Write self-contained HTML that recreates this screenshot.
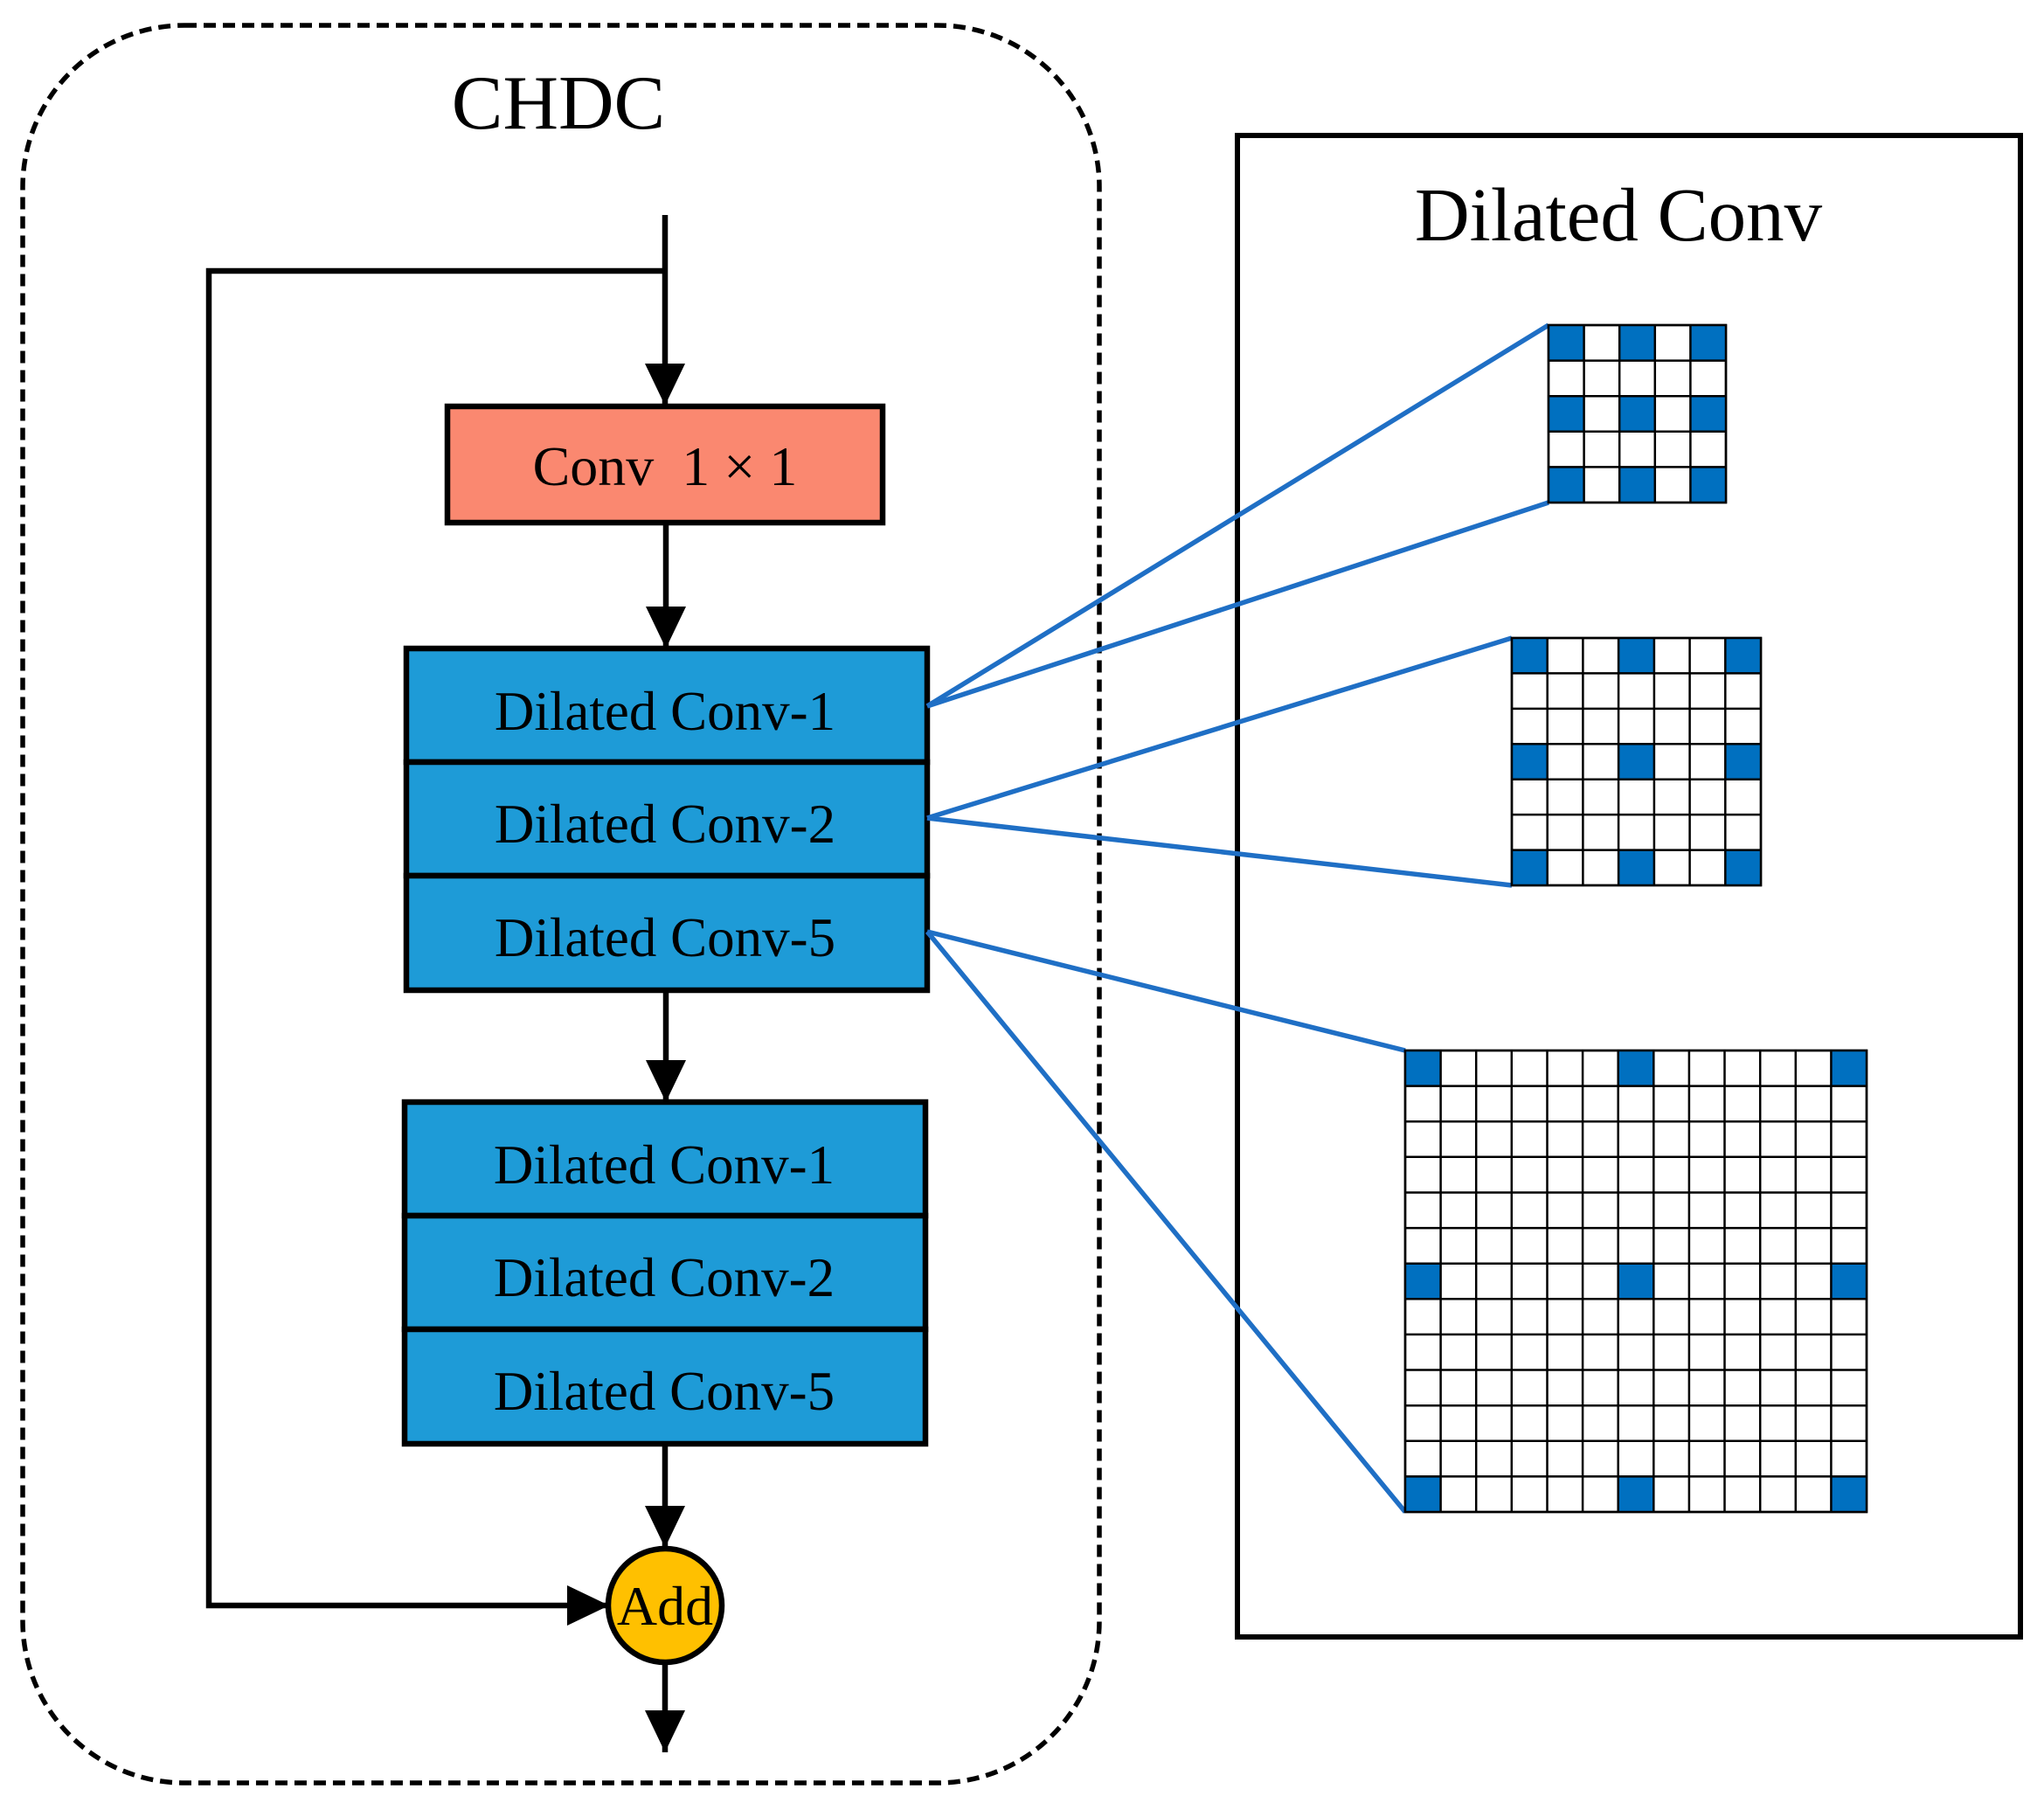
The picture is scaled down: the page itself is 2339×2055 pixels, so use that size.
<!DOCTYPE html>
<html><head><meta charset="utf-8"><style>html,body{margin:0;padding:0;background:#fff}svg{display:block}</style></head><body>
<svg width="2339" height="2055" viewBox="0 0 2339 2055" xmlns="http://www.w3.org/2000/svg" font-family="Liberation Serif, serif">
<defs>
<marker id="ah" markerWidth="48" markerHeight="46" refX="48" refY="23" orient="auto" markerUnits="userSpaceOnUse">
<path d="M0,0 L48,23 L0,46 Z" fill="#000"/></marker>
</defs>
<rect x="26" y="29" width="1232" height="2011" rx="185" ry="185" fill="none" stroke="#000" stroke-width="5.5" stroke-dasharray="14,8"/>
<text x="639" y="147" font-size="88" text-anchor="middle">CHDC</text>
<line x1="761" y1="246" x2="761" y2="464" stroke="#000" stroke-width="6.5" marker-end="url(#ah)"/>
<polyline points="761,310 239,310 239,1837 697,1837" fill="none" stroke="#000" stroke-width="6.5" marker-end="url(#ah)"/>
<rect x="512" y="465" width="498" height="133" fill="#FA8870" stroke="#000" stroke-width="6.5"/>
<text x="761" y="555" font-size="64" text-anchor="middle" xml:space="preserve">Conv  1 × 1</text>
<line x1="762" y1="598" x2="762" y2="742" stroke="#000" stroke-width="6.5" marker-end="url(#ah)"/>
<g stroke="#000" stroke-width="6.5" fill="#1E9BD7">
<rect x="465" y="742" width="596" height="130"/>
<rect x="465" y="872" width="596" height="130"/>
<rect x="465" y="1002" width="596" height="131"/>
</g>
<g font-size="63" text-anchor="middle">
<text x="761" y="835">Dilated Conv-1</text>
<text x="761" y="964">Dilated Conv-2</text>
<text x="761" y="1094">Dilated Conv-5</text>
</g>
<line x1="762" y1="1133" x2="762" y2="1261" stroke="#000" stroke-width="6.5" marker-end="url(#ah)"/>
<g stroke="#000" stroke-width="6.5" fill="#1E9BD7">
<rect x="463" y="1261" width="596" height="130"/>
<rect x="463" y="1391" width="596" height="130"/>
<rect x="463" y="1521" width="596" height="131"/>
</g>
<g font-size="63" text-anchor="middle">
<text x="760" y="1354">Dilated Conv-1</text>
<text x="760" y="1483">Dilated Conv-2</text>
<text x="760" y="1613">Dilated Conv-5</text>
</g>
<line x1="761" y1="1652" x2="761" y2="1771" stroke="#000" stroke-width="6.5" marker-end="url(#ah)"/>
<circle cx="761" cy="1837" r="65" fill="#FFC000" stroke="#000" stroke-width="6.5"/>
<text x="761" y="1859" font-size="64" text-anchor="middle">Add</text>
<line x1="761" y1="1903" x2="761" y2="2005" stroke="#000" stroke-width="6.5" marker-end="url(#ah)"/>
<rect x="1416" y="155" width="896" height="1718" fill="none" stroke="#000" stroke-width="6"/>
<text x="1852" y="275" font-size="87" text-anchor="middle">Dilated Conv</text>
<g stroke="#1F6FC5" stroke-width="5.5">
<line x1="1061" y1="808" x2="1772" y2="372"/>
<line x1="1061" y1="808" x2="1772" y2="575"/>
<line x1="1061" y1="936" x2="1730" y2="730"/>
<line x1="1061" y1="936" x2="1730" y2="1013"/>
<line x1="1061" y1="1066" x2="1608" y2="1202"/>
<line x1="1061" y1="1066" x2="1608" y2="1730"/>
</g>
<g stroke="#000" stroke-width="2.5">
<rect x="1772" y="372" width="203" height="203" fill="#fff"/>
<g fill="#0070C0" stroke="none">
<rect x="1772" y="372" width="40.6" height="40.6"/><rect x="1853.2" y="372" width="40.6" height="40.6"/><rect x="1934.4" y="372" width="40.6" height="40.6"/>
<rect x="1772" y="453.2" width="40.6" height="40.6"/><rect x="1853.2" y="453.2" width="40.6" height="40.6"/><rect x="1934.4" y="453.2" width="40.6" height="40.6"/>
<rect x="1772" y="534.4" width="40.6" height="40.6"/><rect x="1853.2" y="534.4" width="40.6" height="40.6"/><rect x="1934.4" y="534.4" width="40.6" height="40.6"/>
</g>
<path fill="none" d="M1772,372H1975V575H1772Z M1812.6,372V575 M1853.2,372V575 M1893.8,372V575 M1934.4,372V575 M1772,412.6H1975 M1772,453.2H1975 M1772,493.8H1975 M1772,534.4H1975"/>
</g>
<g stroke="#000" stroke-width="2.5">
<rect x="1730" y="730" width="285" height="283" fill="#fff"/>
<g fill="#0070C0" stroke="none">
<rect x="1730" y="730" width="40.7" height="40.4"/><rect x="1852.1" y="730" width="40.7" height="40.4"/><rect x="1974.3" y="730" width="40.7" height="40.4"/>
<rect x="1730" y="851.3" width="40.7" height="40.4"/><rect x="1852.1" y="851.3" width="40.7" height="40.4"/><rect x="1974.3" y="851.3" width="40.7" height="40.4"/>
<rect x="1730" y="972.6" width="40.7" height="40.4"/><rect x="1852.1" y="972.6" width="40.7" height="40.4"/><rect x="1974.3" y="972.6" width="40.7" height="40.4"/>
</g>
<path fill="none" d="M1730,730H2015V1013H1730Z M1770.7,730V1013 M1811.4,730V1013 M1852.1,730V1013 M1892.9,730V1013 M1933.6,730V1013 M1974.3,730V1013 M1730,770.4H2015 M1730,810.9H2015 M1730,851.3H2015 M1730,891.7H2015 M1730,932.1H2015 M1730,972.6H2015"/>
</g>
<g stroke="#000" stroke-width="2.5">
<rect x="1608" y="1202" width="528" height="528" fill="#fff"/>
<g fill="#0070C0" stroke="none">
<rect x="1608" y="1202" width="40.6" height="40.6"/><rect x="1851.7" y="1202" width="40.6" height="40.6"/><rect x="2095.4" y="1202" width="40.6" height="40.6"/>
<rect x="1608" y="1445.7" width="40.6" height="40.6"/><rect x="1851.7" y="1445.7" width="40.6" height="40.6"/><rect x="2095.4" y="1445.7" width="40.6" height="40.6"/>
<rect x="1608" y="1689.4" width="40.6" height="40.6"/><rect x="1851.7" y="1689.4" width="40.6" height="40.6"/><rect x="2095.4" y="1689.4" width="40.6" height="40.6"/>
</g>
<path fill="none" d="M1608,1202H2136V1730H1608Z
M1648.6,1202V1730 M1689.2,1202V1730 M1729.8,1202V1730 M1770.5,1202V1730 M1811.1,1202V1730 M1851.7,1202V1730 M1892.3,1202V1730 M1932.9,1202V1730 M1973.5,1202V1730 M2014.2,1202V1730 M2054.8,1202V1730 M2095.4,1202V1730
M1608,1242.6H2136 M1608,1283.2H2136 M1608,1323.8H2136 M1608,1364.5H2136 M1608,1405.1H2136 M1608,1445.7H2136 M1608,1486.3H2136 M1608,1526.9H2136 M1608,1567.5H2136 M1608,1608.2H2136 M1608,1648.8H2136 M1608,1689.4H2136"/>
</g>
</svg>
</body></html>
